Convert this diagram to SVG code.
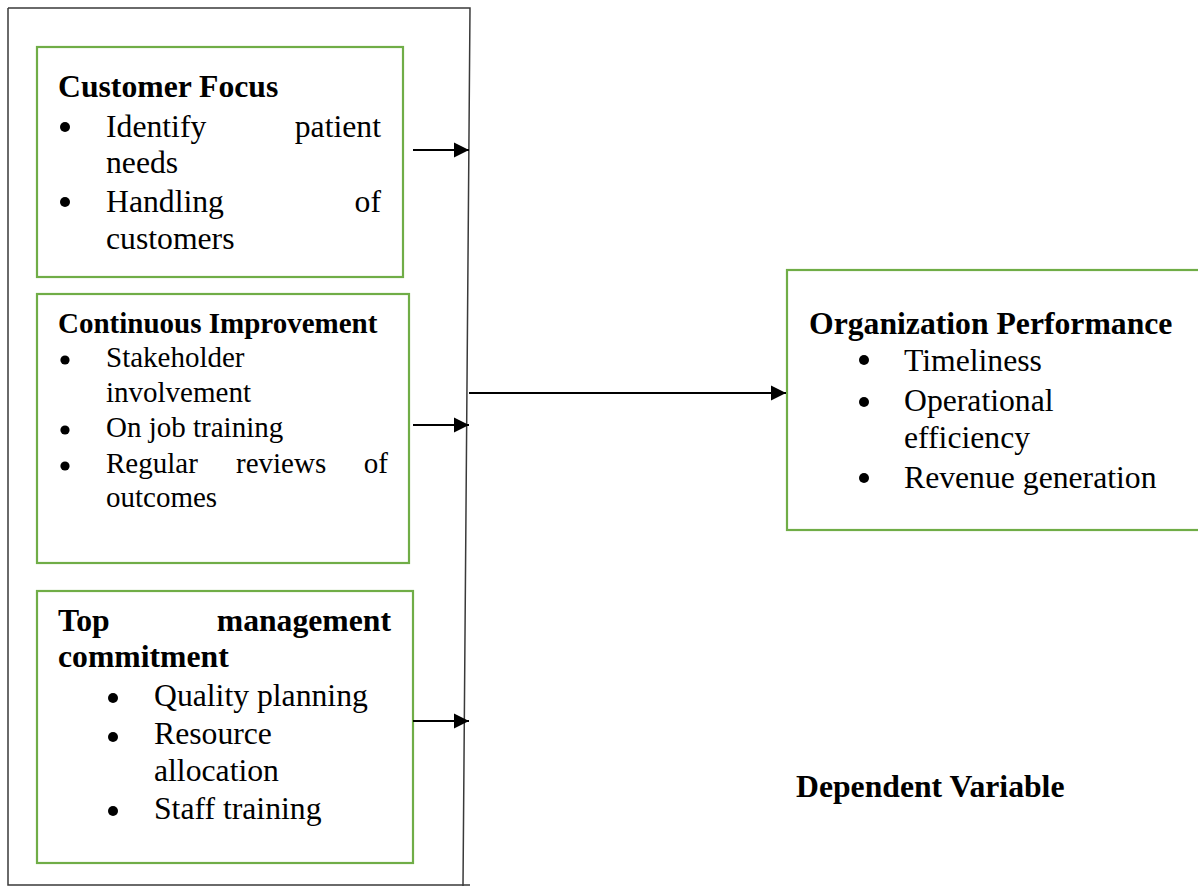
<svg xmlns="http://www.w3.org/2000/svg" width="1198" height="886" viewBox="0 0 1198 886">
  <style>
    .t { font-family: "Liberation Serif", "Times New Roman", serif; font-size: 31.7px; fill: #000; }
    .b { font-weight: bold; }
    .s { font-size: 29px; }
    .box { fill: #fff; stroke: #70AD47; stroke-width: 2.2; }
    .frame { fill: none; stroke: #3a3a3a; stroke-width: 1.5; }
    .conn { stroke: #000; stroke-width: 2; fill: none; marker-end: url(#arrow); }
    .dot { fill: #000; }
  </style>
  <defs>
    <marker id="arrow" markerUnits="userSpaceOnUse" markerWidth="16" markerHeight="16" viewBox="0 0 16 16" refX="15" refY="8" orient="auto">
      <path d="M0,0.5 L15,8 L0,15.5 Z" fill="#000"/>
    </marker>
  </defs>

  <rect width="1198" height="886" fill="#fff"/>

  <!-- outer frame around the independent variables -->
  <g id="frame">
    <path class="frame" d="M8,8 H470 L463,886"/>
    <path class="frame" d="M8,8 V885 H470"/>
  </g>

  <!-- Customer Focus -->
  <g id="customer-focus">
    <rect class="box" x="37" y="47" width="366" height="230"/>
    <text class="t b" x="58" y="97">Customer Focus</text>
    <circle class="dot" cx="65" cy="127" r="5"/>
    <text class="t" x="106" y="137">Identify</text>
    <text class="t" x="381" y="137" text-anchor="end">patient</text>
    <text class="t" x="106" y="173">needs</text>
    <circle class="dot" cx="65" cy="202" r="5"/>
    <text class="t" x="106" y="212">Handling</text>
    <text class="t" x="381" y="212" text-anchor="end">of</text>
    <text class="t" x="106" y="249">customers</text>
  </g>

  <!-- Continuous Improvement -->
  <g id="continuous-improvement">
    <rect class="box" x="37" y="294" width="372" height="269"/>
    <text class="t s b" x="58" y="333">Continuous Improvement</text>
    <circle class="dot" cx="65" cy="360" r="4.6"/>
    <text class="t s" x="106" y="367">Stakeholder</text>
    <text class="t s" x="106" y="402">involvement</text>
    <circle class="dot" cx="65" cy="430" r="4.6"/>
    <text class="t s" x="106" y="437">On job training</text>
    <circle class="dot" cx="65" cy="466" r="4.6"/>
    <text class="t s" x="106" y="473">Regular</text>
    <text class="t s" x="236" y="473">reviews</text>
    <text class="t s" x="388" y="473" text-anchor="end">of</text>
    <text class="t s" x="106" y="507">outcomes</text>
  </g>

  <!-- Top management commitment -->
  <g id="top-management">
    <rect class="box" x="37" y="591" width="376" height="272"/>
    <text class="t b" x="58" y="631">Top</text>
    <text class="t b" x="391" y="631" text-anchor="end">management</text>
    <text class="t b" x="58" y="667">commitment</text>
    <circle class="dot" cx="113" cy="698" r="5"/>
    <text class="t" x="154" y="706">Quality planning</text>
    <circle class="dot" cx="113" cy="737" r="5"/>
    <text class="t" x="154" y="744">Resource</text>
    <text class="t" x="154" y="781">allocation</text>
    <circle class="dot" cx="113" cy="811" r="5"/>
    <text class="t" x="154" y="819">Staff training</text>
  </g>

  <!-- Organization Performance -->
  <g id="organization-performance">
    <rect class="box" x="787" y="270" width="420" height="260"/>
    <text class="t b" x="809" y="334">Organization Performance</text>
    <circle class="dot" cx="864" cy="360" r="5"/>
    <text class="t" x="904" y="371">Timeliness</text>
    <circle class="dot" cx="864" cy="402" r="5"/>
    <text class="t" x="904" y="411">Operational</text>
    <text class="t" x="904" y="448">efficiency</text>
    <circle class="dot" cx="864" cy="478" r="5"/>
    <text class="t" x="904" y="488">Revenue generation</text>
  </g>

  <g id="dependent-label">
    <text class="t b" x="796" y="797">Dependent Variable</text>
  </g>

  <!-- connectors -->
  <g id="connectors">
    <path class="conn" d="M413,150 H469"/>
    <path class="conn" d="M413,425 H469"/>
    <path class="conn" d="M413,721 H469"/>
    <path class="conn" d="M469,393 H786"/>
  </g>
</svg>
